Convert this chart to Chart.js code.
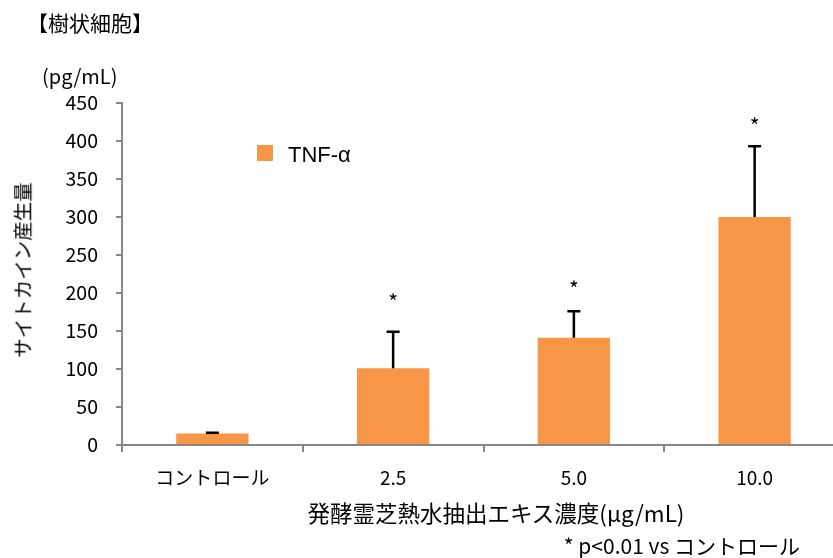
<!DOCTYPE html>
<html><head><meta charset="utf-8">
<script src="https://cdn.jsdelivr.net/npm/chart.js@4"></script>
<style>
html,body{margin:0;padding:0;background:#fff;overflow:hidden;width:833px;height:558px;}
#wrap{position:absolute;left:0;top:0;width:845px;height:558px;}
.t{position:absolute;font-family:"Noto Sans CJK JP","Noto Sans",sans-serif;color:#000;white-space:nowrap;line-height:1;}
</style></head><body>
<div id="wrap"><canvas id="c" width="845" height="558"></canvas></div>
<div class="t" style="left:27px;top:12px;font-size:21px;">【樹状細胞】</div>
<div class="t" style="left:42px;top:66px;font-size:20px;">(pg/mL)</div>
<div class="t" style="left:22px;top:270px;font-size:19.5px;transform:translate(-50%,-50%) rotate(-90deg);">サイトカイン産生量</div>
<div class="t" style="left:496px;top:512px;font-size:22.5px;transform:translate(-50%,-50%);">発酵霊芝熱水抽出エキス濃度(μg/mL)</div>
<div class="t" style="right:33px;top:535px;font-size:21px;">* p&lt;0.01 vs コントロール</div>
<div style="position:absolute;left:257px;top:145px;width:16px;height:16px;background:#F79646;"></div>
<div class="t" style="left:288px;top:144px;font-size:22px;font-family:'Liberation Sans',Arial,sans-serif;">TNF-α</div>
<script>
const categories = ["コントロール", "2.5", "5.0", "10.0"];
const tnfValues = [15, 101, 141, 300];
const tnfErrors = [1, 48, 35, 93];
const markValues = [null, 193, 210, 425];
const markLabels = ["", "*", "*", "*"];
const yTicks = [0, 50, 100, 150, 200, 250, 300, 350, 400, 450];

const extras = {
  id: 'extras',
  afterDatasetsDraw(chart) {
    const ctx = chart.ctx, y = chart.scales.y, meta = chart.getDatasetMeta(0);
    ctx.save();
    meta.data.forEach((bar, i) => {
      const x = bar.x;
      const y0 = y.getPixelForValue(tnfValues[i]);
      const y1 = y.getPixelForValue(tnfValues[i] + tnfErrors[i]);
      ctx.strokeStyle = '#000';
      ctx.lineWidth = 2.5;
      ctx.beginPath();
      ctx.moveTo(x, y0); ctx.lineTo(x, y1);
      ctx.moveTo(x - 6.5, y1); ctx.lineTo(x + 6.5, y1);
      ctx.stroke();
      if (markValues[i] !== null) {
        ctx.fillStyle = '#000';
        ctx.font = '21px "Noto Sans CJK JP", sans-serif';
        ctx.textAlign = 'center';
        ctx.textBaseline = 'middle';
        ctx.fillText(markLabels[i], x, y.getPixelForValue(markValues[i]) + 4);
      }
    });
    ctx.restore();
  }
};

new Chart(document.getElementById('c'), {
  type: 'bar',
  data: {
    labels: categories,
    datasets: [{
      label: 'TNF-α',
      data: tnfValues,
      backgroundColor: '#F79646',
      borderWidth: 0,
      categoryPercentage: 0.4,
      barPercentage: 1.0
    }]
  },
  options: {
    responsive: false,
    animation: false,
    devicePixelRatio: 1,
    layout: { padding: { top: 103, right: 0, left: 0, bottom: 0 } },
    plugins: { legend: { display: false }, tooltip: { enabled: false } },
    scales: {
      x: {
        offset: true,
        grid: { offset: true, drawOnChartArea: false, drawTicks: true, tickLength: 7, color: '#878787', lineWidth: 2 },
        border: { color: '#878787', width: 2 },
        ticks: { color: '#000', font: { size: 19, family: '"Noto Sans CJK JP", sans-serif' }, padding: 14 },
        afterFit(s) { s.height = 113; }
      },
      y: {
        min: 0, max: 450,
        afterBuildTicks(s) { s.ticks = yTicks.map(v => ({ value: v })); },
        grid: { drawOnChartArea: false, drawTicks: true, tickLength: 6, color: '#878787', lineWidth: 2 },
        border: { color: '#878787', width: 2 },
        ticks: { color: '#000', font: { size: 19.5, family: '"Noto Sans CJK JP", sans-serif' }, padding: 18 },
        afterFit(s) { s.width = 122; }
      }
    }
  },
  plugins: [extras]
});
</script>
</body></html>
